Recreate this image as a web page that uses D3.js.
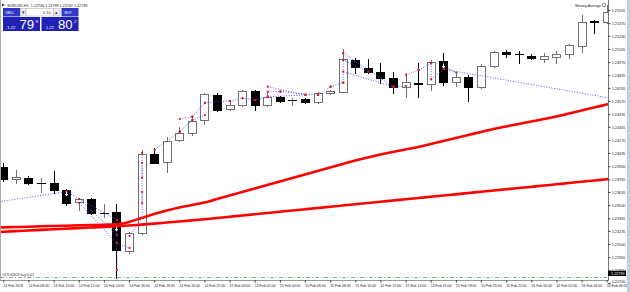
<!DOCTYPE html>
<html>
<head>
<meta charset="utf-8">
<script src="https://cdn.jsdelivr.net/npm/d3@7"></script>
<style>
  html, body { margin: 0; padding: 0; background: #fff; }
  svg { display: block; font-family: "Liberation Sans", Arial, sans-serif; }
</style>
</head>
<body>
<svg id="chart" width="630" height="292"></svg>
<script>
// EURUSD H1, 14 Feb 06:00 -> 16 Feb 06:00 (one bar per hour)

const timeLabels = ["14 Feb 2018", "14 Feb 08:00", "14 Feb 10:00", "14 Feb 12:00", "14 Feb 14:00",
  "14 Feb 16:00", "14 Feb 18:00", "14 Feb 20:00", "14 Feb 22:00", "15 Feb 00:00", "15 Feb 02:00",
  "15 Feb 04:00", "15 Feb 06:00", "15 Feb 08:00", "15 Feb 10:00", "15 Feb 12:00", "15 Feb 14:00",
  "15 Feb 16:00", "15 Feb 18:00", "15 Feb 20:00", "15 Feb 22:00", "16 Feb 00:00", "16 Feb 02:00",
  "16 Feb 04:00", "16 Feb 06:00"];

const priceTicks = [1.22700, 1.22830, 1.22965, 1.23100, 1.23235, 1.23365, 1.23500, 1.23635, 1.23765,
  1.23900, 1.24035, 1.24170, 1.24305, 1.24435, 1.24570, 1.24705, 1.24835, 1.24970, 1.25105, 1.25240,
  1.25370, 1.25505];

const opens = [1.23892, 1.23769, 1.23782, 1.23728, 1.23728, 1.23656, 1.23532, 1.23563, 1.23422, 1.23430,
  1.23032, 1.23217, 1.24025, 1.23943, 1.24169, 1.24241, 1.24375, 1.24632, 1.24488, 1.24529,
  1.24673, 1.24529, 1.24611, 1.24580, 1.24591, 1.24560, 1.24652, 1.24666, 1.24991, 1.24912,
  1.24868, 1.24806, 1.24714, 1.24758, 1.24745, 1.24981, 1.24765, 1.24817, 1.24714, 1.24930,
  1.25074, 1.25053, 1.25032, 1.25002, 1.25022, 1.25053, 1.25135, 1.25392, 1.25382];
const highs = [1.23933, 1.23861, 1.23799, 1.23779, 1.23851, 1.23666, 1.23573, 1.23573, 1.23512, 1.23512,
  1.23224, 1.24067, 1.24087, 1.24200, 1.24303, 1.24416, 1.24652, 1.24652, 1.24580, 1.24683,
  1.24683, 1.24663, 1.24621, 1.24601, 1.24601, 1.24663, 1.24683, 1.25104, 1.25012, 1.25002,
  1.24961, 1.24868, 1.24858, 1.24961, 1.24991, 1.25063, 1.24868, 1.24837, 1.24950, 1.25084,
  1.25094, 1.25084, 1.25053, 1.25063, 1.25084, 1.25156, 1.25454, 1.25402, 1.25556];
const lows = [1.23748, 1.23728, 1.23717, 1.23635, 1.23625, 1.23501, 1.23450, 1.23409, 1.23378, 1.22751,
  1.23008, 1.23203, 1.23933, 1.23841, 1.24159, 1.24221, 1.24334, 1.24467, 1.24478, 1.24519,
  1.24478, 1.24519, 1.24560, 1.24529, 1.24550, 1.24550, 1.24642, 1.24663, 1.24858, 1.24858,
  1.24755, 1.24652, 1.24611, 1.24611, 1.24683, 1.24734, 1.24724, 1.24570, 1.24704, 1.24919,
  1.25022, 1.24961, 1.25002, 1.24971, 1.24961, 1.25012, 1.25074, 1.25269, 1.25372];
const closes = [1.23769, 1.23789, 1.23728, 1.23730, 1.23656, 1.23522, 1.23563, 1.23419, 1.23424, 1.23039,
  1.23217, 1.24025, 1.23936, 1.24159, 1.24246, 1.24365, 1.24642, 1.24478, 1.24529, 1.24673,
  1.24529, 1.24611, 1.24573, 1.24585, 1.24560, 1.24652, 1.24673, 1.25002, 1.24919, 1.24871,
  1.24806, 1.24714, 1.24765, 1.24742, 1.24971, 1.24765, 1.24817, 1.24714, 1.24930, 1.25074,
  1.25053, 1.25050, 1.25012, 1.25032, 1.25053, 1.25146, 1.25382, 1.25382, 1.25485];

// moving averages, bars -1 .. 49
const maFast = [1.23270, 1.23272, 1.23275, 1.23278, 1.23283, 1.23286, 1.23289, 1.23293, 1.23296, 1.23299,
  1.23303, 1.23327, 1.23368, 1.23409, 1.23445, 1.23476, 1.23501, 1.23527, 1.23563, 1.23599,
  1.23635, 1.23671, 1.23707, 1.23743, 1.23779, 1.23815, 1.23851, 1.23887, 1.23923, 1.23959,
  1.23990, 1.24020, 1.24046, 1.24072, 1.24097, 1.24128, 1.24159, 1.24190, 1.24221, 1.24252,
  1.24282, 1.24308, 1.24334, 1.24359, 1.24385, 1.24411, 1.24442, 1.24472, 1.24503, 1.24534,
  1.24565];
const maSlow = [1.23221, 1.23227, 1.23233, 1.23239, 1.23246, 1.23252, 1.23258, 1.23264, 1.23270, 1.23276,
  1.23283, 1.23291, 1.23300, 1.23310, 1.23321, 1.23332, 1.23343, 1.23355, 1.23368, 1.23380,
  1.23394, 1.23406, 1.23419, 1.23432, 1.23445, 1.23457, 1.23471, 1.23483, 1.23496, 1.23509,
  1.23522, 1.23534, 1.23548, 1.23560, 1.23573, 1.23586, 1.23599, 1.23611, 1.23625, 1.23637,
  1.23650, 1.23663, 1.23676, 1.23688, 1.23702, 1.23714, 1.23728, 1.23740, 1.23753, 1.23766,
  1.23779];

// trade history: [bar open, price open, bar close, price close]
const trades = [
  [-0.8, 1.23527, 5, 1.23638], [5, 1.23638, 9, 1.23347], [6, 1.23563, 9, 1.23193],
  [6, 1.23522, 9, 1.23111], [9, 1.23111, 10, 1.23060], [9, 1.23347, 9, 1.22834],
  [10, 1.23183, 11, 1.23368], [11, 1.23368, 11, 1.24036], [11, 1.23933, 11, 1.23779],
  [11, 1.23635, 11, 1.23522],
  [12, 1.24067, 14, 1.24255], [14, 1.24255, 15, 1.24375], [14, 1.24385, 15, 1.24409],
  [15, 1.24375, 16, 1.24426], [15, 1.24409, 16, 1.24550], [16, 1.24550, 18, 1.24570],
  [18, 1.24570, 19, 1.24598], [19, 1.24598, 20, 1.24580], [20, 1.24580, 21, 1.24614],
  [21, 1.24717, 24, 1.24632], [21, 1.24666, 22, 1.24666], [22, 1.24666, 25, 1.24632],
  [21, 1.24614, 24, 1.24632], [25, 1.24632, 26, 1.24717], [26, 1.24717, 27, 1.24758],
  [27, 1.24758, 27, 1.25060], [27, 1.25060, 31, 1.24717], [27, 1.24991, 29, 1.24871],
  [27, 1.24871, 31, 1.24717], [31, 1.24717, 32, 1.24724], [32, 1.24837, 33, 1.24889],
  [33, 1.24889, 34, 1.24957], [34, 1.24957, 34, 1.24793], [34, 1.24793, 35, 1.24896],
  [35, 1.24922, 36, 1.24861], [35, 1.24896, 50, 1.24560]
];

// white close arrows sitting on black bodies: [bar, price]
const closeArrows = [[5, 1.23610], [9, 1.23250], [35, 1.24930]];

const orderPrice = 1.22765;
const bidPrice = 1.22799;
const symbolLine = "EURUSD,H1  1.22746 1.22799 1.22742 1.22799";

// ---------------------------------------------------------------
const svg = d3.select("#chart");
const plotRight = 608;
const plotBottom = 280;

const x = d3.scaleLinear().domain([0, 48]).range([3.3, 606.7]);
const y = d3.scaleLinear().domain([1.227, 1.25505]).range([283, 10]);

svg.append("rect").attr("width", 630).attr("height", 292).attr("fill", "#fff");

svg.append("defs").append("clipPath").attr("id", "plot-clip")
  .append("rect").attr("x", 0).attr("y", 0).attr("width", plotRight).attr("height", plotBottom);

const plot = svg.append("g").attr("clip-path", "url(#plot-clip)");

// open order line
plot.append("line")
  .attr("x1", 0).attr("x2", plotRight)
  .attr("y1", Math.round(y(orderPrice)) + 0.5).attr("y2", Math.round(y(orderPrice)) + 0.5)
  .attr("stroke", "#6cc06c").attr("stroke-width", 1)
  .attr("stroke-dasharray", "4,2,1,2");

plot.append("text")
  .text("#47134823 buy 0.01")
  .attr("x", 2).attr("y", Math.round(y(orderPrice)) - 1)
  .attr("font-size", 3.5).attr("fill", "#333");

// candles
const bars = d3.range(opens.length).map((i) => ({
  i: i, o: opens[i], h: highs[i], l: lows[i], c: closes[i]
}));

const candle = plot.selectAll("g.candle").data(bars).enter().append("g").attr("class", "candle");

candle.append("line")
  .attr("x1", (d) => Math.round(x(d.i)) + 0.5)
  .attr("x2", (d) => Math.round(x(d.i)) + 0.5)
  .attr("y1", (d) => Math.round(y(d.h)))
  .attr("y2", (d) => Math.round(y(d.l)) + 1)
  .attr("stroke", (d) => (d.c >= d.o ? "#707070" : "#000"));

candle.each(function (d) {
  const g = d3.select(this);
  const cx = Math.round(x(d.i));
  const top = Math.round(y(Math.max(d.o, d.c)));
  const bottom = Math.round(y(Math.min(d.o, d.c)));
  if (bottom - top < 1) {
    g.append("line")
      .attr("x1", cx - 4).attr("x2", cx + 5)
      .attr("y1", top + 0.5).attr("y2", top + 0.5)
      .attr("stroke", "#000");
  } else {
    g.append("rect")
      .attr("x", cx - 4 + 0.5).attr("y", top + 0.5)
      .attr("width", 8).attr("height", bottom - top)
      .attr("fill", d.c >= d.o ? "#fff" : "#000")
      .attr("stroke", d.c >= d.o ? "#707070" : "#000");
  }
});

// moving averages
const maLine = d3.line()
  .x((d, j) => x(j - 1))
  .y((d) => y(d))
  .curve(d3.curveMonotoneX);

[maSlow, maFast].forEach((series) => {
  plot.append("path")
    .attr("d", maLine(series))
    .attr("fill", "none")
    .attr("stroke", "#ff0000")
    .attr("stroke-width", 2.6);
});

// trade history
plot.selectAll("line.trade").data(trades).enter().append("line")
  .attr("class", "trade")
  .attr("x1", (d) => x(d[0]) + 0.5).attr("y1", (d) => y(d[1]))
  .attr("x2", (d) => x(d[2]) + 0.5).attr("y2", (d) => y(d[3]))
  .attr("stroke", "#4747ff").attr("stroke-width", 0.9)
  .attr("stroke-dasharray", "1,1.6");

const dots = [];
trades.forEach((t) => {
  if (t[0] >= 0) dots.push([t[0], t[1]]);
  if (t[2] <= 48) dots.push([t[2], t[3]]);
});
plot.selectAll("circle.dot").data(dots).enter().append("circle")
  .attr("cx", (d) => x(d[0]) + 0.5).attr("cy", (d) => y(d[1]))
  .attr("r", 1.1).attr("fill", "#e8141e");

// small white arrows on black bodies
plot.selectAll("path.arrow").data(closeArrows).enter().append("path")
  .attr("class", "arrow")
  .attr("transform", (d) => `translate(${Math.round(x(d[0])) + 0.5},${Math.round(y(d[1]))})`)
  .attr("d", "M-1.8,0 L1.8,0 L0,2.6 Z M-0.5,-2.4 L0.5,-2.4 L0.5,0 L-0.5,0 Z")
  .attr("fill", "#fff");

// frame
svg.append("line").attr("x1", plotRight + 0.5).attr("x2", plotRight + 0.5)
  .attr("y1", 0).attr("y2", plotBottom + 1).attr("stroke", "#777");
svg.append("line").attr("x1", 0).attr("x2", plotRight + 1)
  .attr("y1", plotBottom + 0.5).attr("y2", plotBottom + 0.5).attr("stroke", "#999");
svg.append("line").attr("x1", 0.5).attr("x2", 0.5)
  .attr("y1", 0).attr("y2", plotBottom).attr("stroke", "#aaa");

// price axis
const yAxis = d3.axisRight(y)
  .tickValues(priceTicks)
  .tickFormat(d3.format(".5f"))
  .tickSize(2.5)
  .tickPadding(1.2);

const yAxisG = svg.append("g").attr("transform", `translate(${plotRight},0)`).call(yAxis);
yAxisG.select(".domain").remove();
yAxisG.selectAll("line").attr("stroke", "#444");
yAxisG.selectAll("text").attr("font-size", 3.8).attr("fill", "#222")
  .attr("font-family", "'Liberation Sans', Arial, sans-serif");
// lowest price label sits just above the time labels
yAxisG.selectAll("text").filter((d) => d === priceTicks[0]).attr("dy", "-0.05em");

// time axis
const xAxis = d3.axisBottom(x)
  .tickValues(d3.range(0, 49, 2))
  .tickFormat((d, i) => timeLabels[i])
  .tickSize(2.5)
  .tickPadding(2.2);

const xAxisG = svg.append("g").attr("transform", `translate(0,${plotBottom})`).call(xAxis);
xAxisG.select(".domain").remove();
xAxisG.selectAll("line").attr("stroke", "#444");
xAxisG.selectAll("text").attr("font-size", 3.5).attr("fill", "#222")
  .attr("text-anchor", "start").attr("dx", -0.5)
  .attr("font-family", "'Liberation Sans', Arial, sans-serif");

// current price box
const bidY = y(bidPrice);
svg.append("rect").attr("x", 608).attr("y", bidY - 2.6).attr("width", 18).attr("height", 5.2)
  .attr("fill", "#000");
svg.append("text").text(bidPrice.toFixed(5))
  .attr("x", 611).attr("y", bidY + 1.4)
  .attr("font-size", 3.8).attr("fill", "#fff");

// window edge on the right
svg.append("rect").attr("x", 627).attr("y", 0).attr("width", 3).attr("height", 292)
  .attr("fill", "#bcd0e6");

// title line
svg.append("path").attr("d", "M2,3.5 L5,5 L2,6.5 Z").attr("fill", "#333");
svg.append("text").text(symbolLine)
  .attr("x", 7.5).attr("y", 6.5).attr("font-size", 3.7).attr("fill", "#222")
  .attr("xml:space", "preserve");

// expert label top right
svg.append("text").text("Moving Average")
  .attr("x", 601).attr("y", 6.5).attr("text-anchor", "end")
  .attr("font-size", 3.6).attr("fill", "#222");
svg.append("circle").attr("cx", 604).attr("cy", 5).attr("r", 1.8)
  .attr("fill", "#fff").attr("stroke", "#333").attr("stroke-width", 0.6);

// one-click trading panel
const panel = svg.append("g");
const blue = "#1f22b2";
const buttonBlue = "#3038c4";

panel.append("rect").attr("x", 3).attr("y", 8).attr("width", 17).attr("height", 8.5).attr("fill", buttonBlue);
panel.append("rect").attr("x", 61.5).attr("y", 8).attr("width", 17).attr("height", 8.5).attr("fill", buttonBlue);
panel.append("rect").attr("x", 20.5).attr("y", 8.5).attr("width", 5.5).attr("height", 7.5)
  .attr("fill", "#eee").attr("stroke", "#aaa").attr("stroke-width", 0.5);
panel.append("rect").attr("x", 26).attr("y", 8.5).attr("width", 27.5).attr("height", 7.5)
  .attr("fill", "#fff").attr("stroke", "#aaa").attr("stroke-width", 0.5);
panel.append("rect").attr("x", 53.5).attr("y", 8.5).attr("width", 6.5).attr("height", 7.5)
  .attr("fill", "#eee").attr("stroke", "#aaa").attr("stroke-width", 0.5);

panel.append("text").text("SELL").attr("x", 5.5).attr("y", 13.8).attr("font-size", 3.6).attr("fill", "#fff");
panel.append("text").text("BUY").attr("x", 64.5).attr("y", 13.8).attr("font-size", 3.6).attr("fill", "#fff");
panel.append("text").text("▾").attr("x", 23.2).attr("y", 14).attr("text-anchor", "middle")
  .attr("font-size", 4.5).attr("fill", "#333");
panel.append("text").text("▴").attr("x", 56.7).attr("y", 14).attr("text-anchor", "middle")
  .attr("font-size", 4.5).attr("fill", "#333");
panel.append("text").text("0.10").attr("x", 50.5).attr("y", 13.8).attr("text-anchor", "end")
  .attr("font-size", 3.8).attr("fill", "#222");

panel.append("rect").attr("x", 3).attr("y", 17).attr("width", 37).attr("height", 14).attr("fill", blue);
panel.append("rect").attr("x", 41.5).attr("y", 17).attr("width", 37).attr("height", 14).attr("fill", blue);

const quotes = [
  { x0: 3, small: "1.22", big: "79", sup: "9" },
  { x0: 41.5, small: "1.22", big: "80", sup: "2" }
];
quotes.forEach((q) => {
  panel.append("text").text(q.small).attr("x", q.x0 + 4.3).attr("y", 28.5)
    .attr("font-size", 4.2).attr("fill", "#fff");
  panel.append("text").text(q.big).attr("x", q.x0 + 16.5).attr("y", 28.7)
    .attr("font-size", 13.2).attr("fill", "#fff");
  panel.append("text").text(q.sup).attr("x", q.x0 + 32.6).attr("y", 22.6)
    .attr("font-size", 4.4).attr("fill", "#fff");
});
</script>
</body>
</html>
